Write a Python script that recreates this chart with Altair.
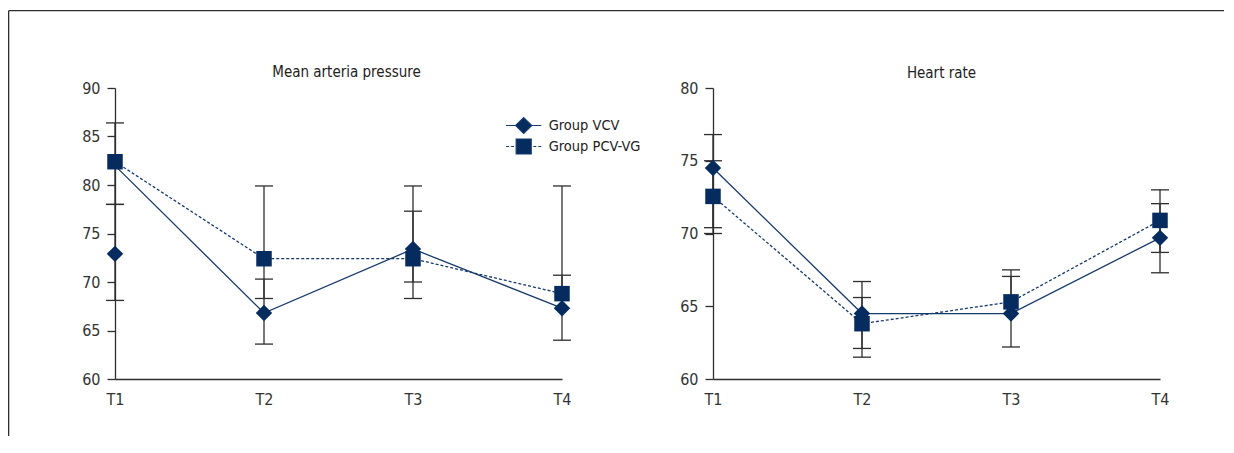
import altair as alt
import pandas as pd

# ---------------- data ----------------
times = ["T1", "T2", "T3", "T4"]
groups = ["Group VCV", "Group PCV-VG"]

# Mean arteria pressure
map_vcv_mean = [72.9, 66.8, 73.4, 67.3]
map_vcv_line = [82.0, 66.8, 73.4, 67.3]
map_vcv_lo = [68.1, 63.6, 70.0, 64.0]
map_vcv_hi = [78.0, 70.3, 77.3, 70.7]
map_pcv_mean = [82.4, 72.4, 72.4, 68.8]
map_pcv_line = [82.4, 72.4, 72.4, 68.8]
map_pcv_lo = [78.0, 68.3, 68.3, None]
map_pcv_hi = [86.4, 79.9, 79.9, 79.9]

# Heart rate
hr_vcv_mean = [74.5, 64.5, 64.5, 69.7]
hr_vcv_line = [74.5, 64.5, 64.5, 69.7]
hr_vcv_lo = [70.4, 62.1, 62.2, 67.3]
hr_vcv_hi = [76.8, 66.7, 67.05, 72.05]
hr_pcv_mean = [72.55, 63.8, 65.3, 70.9]
hr_pcv_line = [72.55, 63.8, 65.3, 70.9]
hr_pcv_lo = [70.0, 61.5, None, 68.7]
hr_pcv_hi = [75.0, 65.6, 67.5, 73.0]

# ---------------- style ----------------
FONT = "Liberation Sans Narrow, Arial Narrow, Noto Sans Condensed, DejaVu Sans Condensed, sans-serif"
MARK = "#062b5e"
LINE = "#173a6d"
ERR = "#2e2e2e"
AXIS = "#2e2e2e"
TXT = "#222222"

# legend glyphs: marker with a line through it (solid / dashed drawn in the path)
P_DIAMOND = "M-2.2,0L-1,0L0,-1L1,0L0,1L-1,0M1,0L2.2,0"
P_SQUARE = ("M-2.2,0L-1.825,0M-1.575,0L-1.2,0"
            "M-0.94,-0.94L0.94,-0.94L0.94,0.94L-0.94,0.94Z"
            "M1.2,0L1.575,0M1.825,0L2.2,0")


def make_df(vm, vl, vlo, vhi, pm, pl, plo, phi):
    rows = []
    for i, t in enumerate(times):
        rows.append(dict(time=t, group=groups[0], mean=vm[i], line=vl[i],
                         lo=vlo[i], hi=vhi[i]))
        rows.append(dict(time=t, group=groups[1], mean=pm[i], line=pl[i],
                         lo=plo[i], hi=phi[i]))
    return pd.DataFrame(rows).astype({"lo": float, "hi": float})


map_df = make_df(map_vcv_mean, map_vcv_line, map_vcv_lo, map_vcv_hi,
                 map_pcv_mean, map_pcv_line, map_pcv_lo, map_pcv_hi)
hr_df = make_df(hr_vcv_mean, hr_vcv_line, hr_vcv_lo, hr_vcv_hi,
                hr_pcv_mean, hr_pcv_line, hr_pcv_lo, hr_pcv_hi)

W, H = 447, 291


def panel(df, title, ymin, ymax, title_offset, title_dx, frame=False, legend=False):
    x = alt.X("time:N", scale=alt.Scale(type="point", domain=times, padding=0),
              axis=alt.Axis(title=None, labelAngle=0, ticks=False, tickSize=0,
                            labelPadding=12, grid=False))
    ys = alt.Scale(domain=[ymin, ymax], nice=False, zero=False)
    ya = alt.Axis(title=None, values=list(range(ymin, ymax + 1, 5)), tickSize=8,
                  labelPadding=7, grid=False)
    base = alt.Chart(df)
    err_lo = base.mark_rule(color=ERR, strokeWidth=1.3).encode(
        x=x, y=alt.Y("lo:Q", scale=ys, axis=ya), y2="mean:Q")
    err_hi = base.mark_rule(color=ERR, strokeWidth=1.3).encode(
        x=x, y=alt.Y("mean:Q", scale=ys, axis=ya), y2="hi:Q")
    cap_lo = base.mark_tick(color=ERR, size=18, thickness=1.3, orient="horizontal",
                            opacity=1).encode(x=x, y=alt.Y("lo:Q", scale=ys, axis=ya))
    cap_hi = base.mark_tick(color=ERR, size=18, thickness=1.3, orient="horizontal",
                            opacity=1).encode(x=x, y=alt.Y("hi:Q", scale=ys, axis=ya))
    line_v = base.transform_filter(alt.datum.group == groups[0]).mark_line(
        color=LINE, strokeWidth=1.3).encode(x=x, y=alt.Y("line:Q", scale=ys, axis=ya))
    line_p = base.transform_filter(alt.datum.group == groups[1]).mark_line(
        color=LINE, strokeWidth=1.3, strokeDash=[3, 2]).encode(
        x=x, y=alt.Y("line:Q", scale=ys, axis=ya))
    pt_v = base.transform_filter(alt.datum.group == groups[0]).mark_point(
        shape="diamond", filled=True, size=270, color=MARK, opacity=1).encode(
        x=x, y=alt.Y("mean:Q", scale=ys, axis=ya))
    pt_p = base.transform_filter(alt.datum.group == groups[1]).mark_point(
        shape="square", filled=True, size=240, color=MARK, opacity=1).encode(
        x=x, y=alt.Y("mean:Q", scale=ys, axis=ya))
    layers = [err_lo, err_hi, cap_lo, cap_hi, line_v, line_p, pt_v, pt_p]

    if legend:
        leg = alt.Legend(title=None, orient="none", legendX=399.7, legendY=28.5,
                         symbolSize=256, symbolStrokeWidth=1.2,
                         labelFontSize=14.5, labelFont=FONT,
                         labelColor=TXT, labelOffset=16, rowPadding=0, padding=0)
        lg = base.transform_filter("false").mark_point(
            filled=True, color=MARK, stroke=LINE, strokeWidth=1.2,
            opacity=1).encode(
            shape=alt.Shape("group:N", scale=alt.Scale(domain=groups,
                            range=[P_DIAMOND, P_SQUARE]), legend=leg))
        layers.append(lg)

    if frame:
        fdf = pd.DataFrame({"k": [0]})
        X0, Y0 = -106.35, -77.35
        top = alt.Chart(fdf).mark_rule(color=AXIS, strokeWidth=1.3).encode(
            x=alt.value(X0), x2=alt.value(1109), y=alt.value(Y0), y2=alt.value(Y0))
        left = alt.Chart(fdf).mark_rule(color=AXIS, strokeWidth=1.3).encode(
            x=alt.value(X0), x2=alt.value(X0), y=alt.value(Y0), y2=alt.value(348))
        layers += [top, left]

    return alt.layer(*layers).properties(
        width=W, height=H,
        title=alt.TitleParams(title, font=FONT, fontSize=15, fontWeight="normal",
                              color=TXT, anchor="middle", frame="group",
                              baseline="bottom", offset=title_offset, dx=title_dx))


left_panel = panel(map_df, "Mean arteria pressure", 60, 90, -85, 8, frame=True, legend=True)
right_panel = panel(hr_df, "Heart rate", 60, 80, -16, 5)

chart = alt.hconcat(left_panel, right_panel, spacing=151, bounds="flush").properties(
    padding={"left": 0, "top": 2, "right": 0, "bottom": 0}
).configure_view(strokeWidth=0).configure_axis(
    domainColor=AXIS, tickColor=AXIS, domainWidth=1.3, tickWidth=1.3,
    labelFont=FONT, labelFontSize=16, labelColor="#333333"
)

chart.save("out.html", embed_options={"renderer": "svg", "actions": False})
